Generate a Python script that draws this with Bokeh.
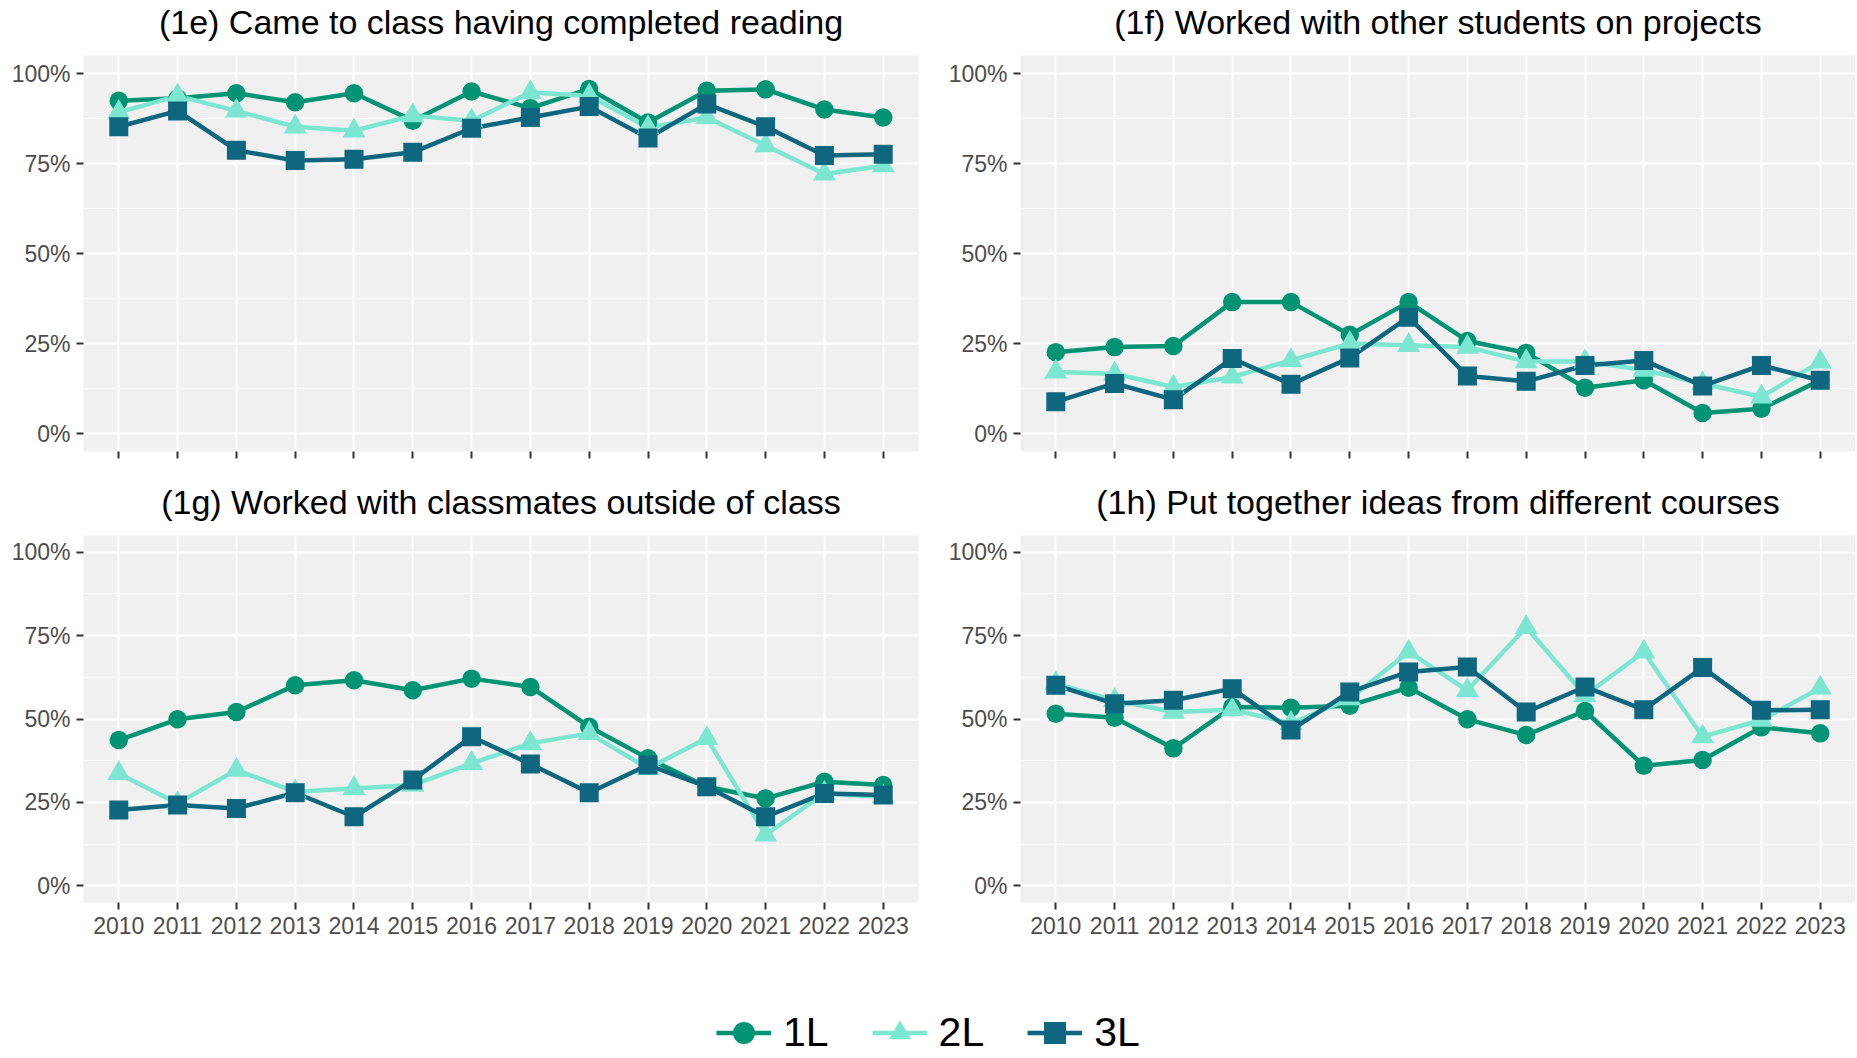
from bokeh.plotting import figure
from bokeh.models import FixedTicker, NumeralTickFormatter, Range1d, Legend, LegendItem, Label
from bokeh.layouts import column, row
from bokeh.embed import file_html
from bokeh.resources import INLINE

FONT = "Liberation Sans"

years = [2010, 2011, 2012, 2013, 2014, 2015, 2016, 2017, 2018, 2019, 2020, 2021, 2022, 2023]
groups = ["1L", "2L", "3L"]
colors = ["#009474", "#7DE6D1", "#0E667F"]
markers = ["circle", "triangle", "square"]
marker_sizes = [18.5, 23, 19]

titles = [
    "(1e) Came to class having completed reading",
    "(1f) Worked with other students on projects",
    "(1g) Worked with classmates outside of class",
    "(1h) Put together ideas from different courses",
]

e_1L = [0.924, 0.931, 0.945, 0.920, 0.945, 0.869, 0.950, 0.904, 0.957, 0.864, 0.952, 0.956, 0.900, 0.878]
e_2L = [0.892, 0.938, 0.896, 0.852, 0.841, 0.883, 0.869, 0.947, 0.938, 0.850, 0.878, 0.800, 0.721, 0.744]
e_3L = [0.852, 0.896, 0.787, 0.758, 0.762, 0.781, 0.848, 0.878, 0.908, 0.821, 0.915, 0.852, 0.772, 0.776]

f_1L = [0.226, 0.240, 0.243, 0.365, 0.365, 0.274, 0.365, 0.257, 0.224, 0.127, 0.148, 0.057, 0.069, 0.148]
f_2L = [0.171, 0.166, 0.129, 0.157, 0.203, 0.250, 0.245, 0.240, 0.200, 0.200, 0.176, 0.139, 0.102, 0.199]
f_3L = [0.088, 0.139, 0.094, 0.208, 0.137, 0.210, 0.323, 0.160, 0.145, 0.189, 0.203, 0.132, 0.189, 0.148]

g_1L = [0.437, 0.499, 0.521, 0.601, 0.616, 0.586, 0.621, 0.596, 0.477, 0.382, 0.297, 0.262, 0.312, 0.302]
g_2L = [0.337, 0.247, 0.347, 0.282, 0.292, 0.302, 0.367, 0.427, 0.457, 0.352, 0.442, 0.153, 0.277, 0.267]
g_3L = [0.227, 0.242, 0.232, 0.279, 0.207, 0.317, 0.447, 0.365, 0.279, 0.362, 0.297, 0.207, 0.277, 0.272]

h_1L = [0.516, 0.504, 0.412, 0.536, 0.534, 0.540, 0.594, 0.499, 0.452, 0.524, 0.360, 0.377, 0.475, 0.457]
h_2L = [0.606, 0.556, 0.521, 0.528, 0.487, 0.561, 0.701, 0.586, 0.775, 0.571, 0.701, 0.447, 0.497, 0.593]
h_3L = [0.601, 0.546, 0.556, 0.591, 0.467, 0.581, 0.641, 0.656, 0.521, 0.596, 0.528, 0.654, 0.526, 0.528]

y_ticks = [0, 0.25, 0.5, 0.75, 1.0]
y_minor = [0.125, 0.375, 0.625, 0.875]

X_LO, X_HI = 2009.4, 2023.6
Y_LO, Y_HI = -0.05, 1.05


def make_title(text, width, height, left, right, middle_from_bottom):
    t = figure(width=width, height=height, title=None,
               x_range=Range1d(X_LO, X_HI), y_range=Range1d(0, height),
               output_backend="svg", toolbar_location=None,
               x_axis_location=None, y_axis_location=None,
               min_border_left=left, min_border_right=right,
               min_border_top=0, min_border_bottom=0)
    t.outline_line_color = None
    t.xgrid.visible = False
    t.ygrid.visible = False
    t.background_fill_color = "white"
    t.border_fill_color = "white"
    t.add_layout(Label(x=(X_LO + X_HI) / 2, y=middle_from_bottom, text=text,
                       text_align="center", text_baseline="middle",
                       text_font=FONT, text_font_size="34px", text_color="black"))
    return t


def make_panel(series, show_xlabels, width, height, left, right, bottom):
    p = figure(width=width, height=height, title=None,
               x_range=Range1d(X_LO, X_HI), y_range=Range1d(Y_LO, Y_HI),
               output_backend="svg", toolbar_location=None,
               min_border_left=left, min_border_right=right,
               min_border_top=0, min_border_bottom=bottom)
    p.background_fill_color = "#F0F0F0"
    p.border_fill_color = "white"
    p.outline_line_color = None

    # grids
    p.xgrid.ticker = FixedTicker(ticks=years)
    p.ygrid.ticker = FixedTicker(ticks=y_ticks, minor_ticks=y_minor)
    for g in (p.xgrid[0], p.ygrid[0]):
        g.grid_line_color = "white"
        g.grid_line_width = 2
    p.ygrid.minor_grid_line_color = "white"
    p.ygrid.minor_grid_line_width = 1

    # axes
    for ax in (p.xaxis[0], p.yaxis[0]):
        ax.axis_line_color = None
        ax.major_tick_line_color = "#333333"
        ax.major_tick_line_width = 2
        ax.major_tick_out = 7
        ax.major_tick_in = 0
        ax.minor_tick_line_color = None
        ax.major_label_text_font = FONT
        ax.major_label_text_font_size = "23px"
        ax.major_label_text_color = "#4D4D4D"
    p.xaxis.ticker = FixedTicker(ticks=years)
    p.yaxis.ticker = FixedTicker(ticks=y_ticks)
    p.yaxis.formatter = NumeralTickFormatter(format="0%")
    p.yaxis.major_label_standoff = 6
    p.xaxis.major_label_standoff = 7
    if not show_xlabels:
        p.xaxis.major_label_overrides = {y: "" for y in years}

    for vals, c in zip(series, colors):
        p.line(years, vals, line_color=c, line_width=4.5, line_join="round")
    for vals, c, m, s in zip(series, colors, markers, marker_sizes):
        p.scatter(years, vals, marker=m, size=s, fill_color=c, line_color=c, line_width=0)
    return p


t1 = make_title(titles[0], 940, 55, 83, 22, 34)
t2 = make_title(titles[1], 915, 55, 80, 0, 34)
p1 = make_panel([e_1L, e_2L, e_3L], False, 940, 413, 83, 22, 17)
p2 = make_panel([f_1L, f_2L, f_3L], False, 915, 413, 80, 0, 17)
t3 = make_title(titles[2], 940, 67, 83, 22, 33.8)
t4 = make_title(titles[3], 915, 67, 80, 0, 33.8)
p3 = make_panel([g_1L, g_2L, g_3L], True, 940, 417, 83, 22, 50)
p4 = make_panel([h_1L, h_2L, h_3L], True, 915, 417, 80, 0, 50)

# legend strip (its renderers lie outside its visible range; only the legend shows)
pl = figure(width=1855, height=104, title=None, x_range=Range1d(0, 1), y_range=Range1d(0, 1),
            output_backend="svg", toolbar_location=None,
            x_axis_location=None, y_axis_location=None,
            min_border_left=0, min_border_right=0, min_border_top=0, min_border_bottom=0)
pl.outline_line_color = None
pl.xgrid.visible = False
pl.ygrid.visible = False
pl.background_fill_color = "white"
pl.border_fill_color = "white"

items = []
for g, c, m, vals in zip(groups, colors, markers, [e_1L, e_2L, e_3L]):
    r_line = pl.line(x=years, y=vals, line_color=c, line_width=4.5)
    r_pt = pl.scatter(x=years, y=vals, marker=m, fill_color=c, line_color=c, line_width=0)
    items.append(LegendItem(label=g, renderers=[r_line, r_pt]))

legend = Legend(items=items, orientation="horizontal", location=(716, -4),
                glyph_width=55, glyph_height=55, label_standoff=12, spacing=43,
                padding=0, margin=0, border_line_color=None,
                background_fill_alpha=0,
                label_text_font=FONT, label_text_font_size="41px",
                label_text_color="black")
pl.add_layout(legend, "center")

layout = column(row(t1, t2, spacing=0), row(p1, p2, spacing=0),
                row(t3, t4, spacing=0), row(p3, p4, spacing=0), pl, spacing=0)

open("out.html", "w").write(file_html(layout, INLINE))
